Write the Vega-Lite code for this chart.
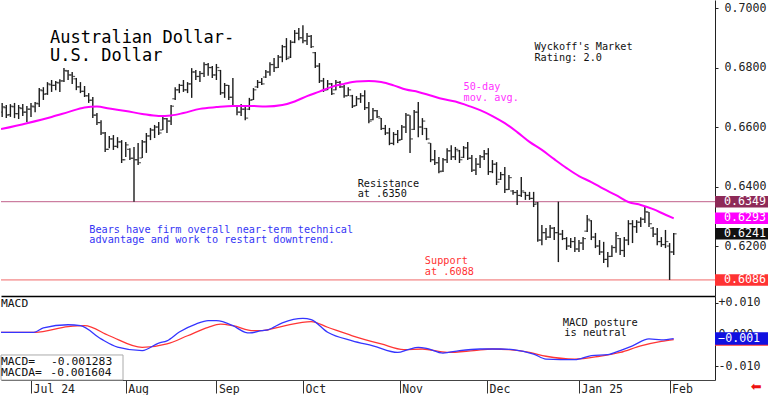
{
  "$schema": "https://vega.github.io/schema/vega-lite/v6.json",
  "padding": 0,
  "spacing": 0,
  "background": "white",
  "config": {
    "view": {"stroke": null},
    "axis": {"grid": false, "labelFont": "DejaVu Sans Mono", "labelFontSize": 11.6, "labelColor": "#222222", "domainColor": "#222222", "tickColor": "#222222", "labelOverlap": false},
    "text": {"font": "DejaVu Sans Mono"}
  },
  "resolve": {"scale": {"x": "independent", "y": "independent", "color": "independent"}},
  "datasets": {
    "bars": [
      {"i":-7,"o":0.6650,"h":0.6681,"l":0.6634,"c":0.6668},
      {"i":-6,"o":0.6665,"h":0.6674,"l":0.6630,"c":0.6640},
      {"i":-5,"o":0.6642,"h":0.6677,"l":0.6634,"c":0.6670},
      {"i":-4,"o":0.6668,"h":0.6681,"l":0.6630,"c":0.6645},
      {"i":-3,"o":0.6645,"h":0.6674,"l":0.6627,"c":0.6665},
      {"i":-2,"o":0.6662,"h":0.6677,"l":0.6637,"c":0.6650},
      {"i":-1,"o":0.6650,"h":0.6671,"l":0.6617,"c":0.6660},
      {"i":0,"o":0.6660,"h":0.6681,"l":0.6634,"c":0.6670},
      {"i":1,"o":0.6668,"h":0.6684,"l":0.6650,"c":0.6680},
      {"i":2,"o":0.6678,"h":0.6731,"l":0.6667,"c":0.6725},
      {"i":3,"o":0.6722,"h":0.6734,"l":0.6691,"c":0.6710},
      {"i":4,"o":0.6712,"h":0.6751,"l":0.6708,"c":0.6745},
      {"i":5,"o":0.6742,"h":0.6758,"l":0.6718,"c":0.6740},
      {"i":6,"o":0.6740,"h":0.6755,"l":0.6724,"c":0.6750},
      {"i":7,"o":0.6748,"h":0.6761,"l":0.6718,"c":0.6755},
      {"i":8,"o":0.6755,"h":0.6798,"l":0.6751,"c":0.6790},
      {"i":9,"o":0.6788,"h":0.6792,"l":0.6758,"c":0.6775},
      {"i":10,"o":0.6775,"h":0.6785,"l":0.6745,"c":0.6770},
      {"i":11,"o":0.6762,"h":0.6765,"l":0.6724,"c":0.6735},
      {"i":12,"o":0.6735,"h":0.6751,"l":0.6714,"c":0.6720},
      {"i":13,"o":0.6720,"h":0.6738,"l":0.6701,"c":0.6705},
      {"i":14,"o":0.6705,"h":0.6714,"l":0.6681,"c":0.6690},
      {"i":15,"o":0.6690,"h":0.6701,"l":0.6630,"c":0.6640},
      {"i":16,"o":0.6640,"h":0.6647,"l":0.6607,"c":0.6615},
      {"i":17,"o":0.6615,"h":0.6623,"l":0.6573,"c":0.6580},
      {"i":18,"o":0.6580,"h":0.6583,"l":0.6516,"c":0.6525},
      {"i":19,"o":0.6525,"h":0.6570,"l":0.6529,"c":0.6560},
      {"i":20,"o":0.6560,"h":0.6573,"l":0.6523,"c":0.6535},
      {"i":21,"o":0.6535,"h":0.6566,"l":0.6529,"c":0.6550},
      {"i":22,"o":0.6550,"h":0.6556,"l":0.6479,"c":0.6490},
      {"i":23,"o":0.6490,"h":0.6550,"l":0.6499,"c":0.6540},
      {"i":24,"o":0.6525,"h":0.6529,"l":0.6489,"c":0.6495},
      {"i":25,"o":0.6495,"h":0.6533,"l":0.6349,"c":0.6490},
      {"i":26,"o":0.6490,"h":0.6546,"l":0.6472,"c":0.6480},
      {"i":27,"o":0.6496,"h":0.6556,"l":0.6496,"c":0.6550},
      {"i":28,"o":0.6550,"h":0.6580,"l":0.6513,"c":0.6570},
      {"i":29,"o":0.6570,"h":0.6597,"l":0.6556,"c":0.6590},
      {"i":30,"o":0.6590,"h":0.6607,"l":0.6563,"c":0.6600},
      {"i":31,"o":0.6600,"h":0.6617,"l":0.6573,"c":0.6580},
      {"i":32,"o":0.6590,"h":0.6634,"l":0.6590,"c":0.6628},
      {"i":33,"o":0.6628,"h":0.6630,"l":0.6580,"c":0.6620},
      {"i":34,"o":0.6620,"h":0.6674,"l":0.6607,"c":0.6670},
      {"i":35,"o":0.6695,"h":0.6734,"l":0.6691,"c":0.6725},
      {"i":36,"o":0.6725,"h":0.6745,"l":0.6714,"c":0.6740},
      {"i":37,"o":0.6740,"h":0.6758,"l":0.6718,"c":0.6725},
      {"i":38,"o":0.6725,"h":0.6751,"l":0.6714,"c":0.6745},
      {"i":39,"o":0.6745,"h":0.6798,"l":0.6698,"c":0.6785},
      {"i":40,"o":0.6785,"h":0.6792,"l":0.6758,"c":0.6770},
      {"i":41,"o":0.6770,"h":0.6788,"l":0.6751,"c":0.6780},
      {"i":42,"o":0.6780,"h":0.6818,"l":0.6768,"c":0.6810},
      {"i":43,"o":0.6810,"h":0.6815,"l":0.6772,"c":0.6800},
      {"i":44,"o":0.6800,"h":0.6805,"l":0.6765,"c":0.6775},
      {"i":45,"o":0.6775,"h":0.6812,"l":0.6758,"c":0.6800},
      {"i":46,"o":0.6790,"h":0.6792,"l":0.6708,"c":0.6715},
      {"i":47,"o":0.6715,"h":0.6748,"l":0.6698,"c":0.6740},
      {"i":48,"o":0.6740,"h":0.6741,"l":0.6691,"c":0.6700},
      {"i":49,"o":0.6700,"h":0.6765,"l":0.6667,"c":0.6670},
      {"i":50,"o":0.6670,"h":0.6674,"l":0.6640,"c":0.6650},
      {"i":51,"o":0.6650,"h":0.6677,"l":0.6637,"c":0.6660},
      {"i":52,"o":0.6660,"h":0.6671,"l":0.6623,"c":0.6630},
      {"i":53,"o":0.6660,"h":0.6698,"l":0.6657,"c":0.6690},
      {"i":54,"o":0.6692,"h":0.6731,"l":0.6691,"c":0.6725},
      {"i":55,"o":0.6735,"h":0.6758,"l":0.6731,"c":0.6750},
      {"i":56,"o":0.6750,"h":0.6765,"l":0.6741,"c":0.6745},
      {"i":57,"o":0.6768,"h":0.6792,"l":0.6765,"c":0.6785},
      {"i":58,"o":0.6785,"h":0.6818,"l":0.6772,"c":0.6810},
      {"i":59,"o":0.6810,"h":0.6832,"l":0.6785,"c":0.6800},
      {"i":60,"o":0.6800,"h":0.6842,"l":0.6798,"c":0.6835},
      {"i":61,"o":0.6835,"h":0.6876,"l":0.6818,"c":0.6870},
      {"i":62,"o":0.6870,"h":0.6899,"l":0.6825,"c":0.6830},
      {"i":63,"o":0.6835,"h":0.6892,"l":0.6832,"c":0.6885},
      {"i":64,"o":0.6885,"h":0.6926,"l":0.6882,"c":0.6915},
      {"i":65,"o":0.6915,"h":0.6933,"l":0.6892,"c":0.6900},
      {"i":66,"o":0.6900,"h":0.6942,"l":0.6882,"c":0.6890},
      {"i":67,"o":0.6890,"h":0.6916,"l":0.6876,"c":0.6905},
      {"i":68,"o":0.6905,"h":0.6909,"l":0.6866,"c":0.6870},
      {"i":69,"o":0.6850,"h":0.6852,"l":0.6798,"c":0.6805},
      {"i":70,"o":0.6805,"h":0.6815,"l":0.6748,"c":0.6755},
      {"i":71,"o":0.6755,"h":0.6765,"l":0.6718,"c":0.6725},
      {"i":72,"o":0.6725,"h":0.6758,"l":0.6724,"c":0.6745},
      {"i":73,"o":0.6745,"h":0.6748,"l":0.6708,"c":0.6712},
      {"i":74,"o":0.6725,"h":0.6758,"l":0.6724,"c":0.6750},
      {"i":75,"o":0.6750,"h":0.6755,"l":0.6731,"c":0.6735},
      {"i":76,"o":0.6735,"h":0.6741,"l":0.6698,"c":0.6705},
      {"i":77,"o":0.6705,"h":0.6734,"l":0.6704,"c":0.6725},
      {"i":78,"o":0.6705,"h":0.6708,"l":0.6664,"c":0.6670},
      {"i":79,"o":0.6672,"h":0.6704,"l":0.6671,"c":0.6695},
      {"i":80,"o":0.6695,"h":0.6714,"l":0.6681,"c":0.6705},
      {"i":81,"o":0.6705,"h":0.6724,"l":0.6657,"c":0.6665},
      {"i":82,"o":0.6665,"h":0.6684,"l":0.6613,"c":0.6620},
      {"i":83,"o":0.6625,"h":0.6664,"l":0.6623,"c":0.6655},
      {"i":84,"o":0.6655,"h":0.6657,"l":0.6630,"c":0.6635},
      {"i":85,"o":0.6630,"h":0.6630,"l":0.6590,"c":0.6595},
      {"i":86,"o":0.6595,"h":0.6607,"l":0.6573,"c":0.6580},
      {"i":87,"o":0.6580,"h":0.6597,"l":0.6539,"c":0.6545},
      {"i":88,"o":0.6545,"h":0.6583,"l":0.6539,"c":0.6575},
      {"i":89,"o":0.6575,"h":0.6590,"l":0.6546,"c":0.6555},
      {"i":90,"o":0.6558,"h":0.6607,"l":0.6556,"c":0.6600},
      {"i":91,"o":0.6600,"h":0.6647,"l":0.6580,"c":0.6640},
      {"i":92,"o":0.6640,"h":0.6640,"l":0.6513,"c":0.6560},
      {"i":93,"o":0.6592,"h":0.6657,"l":0.6590,"c":0.6650},
      {"i":94,"o":0.6650,"h":0.6684,"l":0.6566,"c":0.6600},
      {"i":95,"o":0.6600,"h":0.6630,"l":0.6573,"c":0.6620},
      {"i":96,"o":0.6595,"h":0.6597,"l":0.6556,"c":0.6560},
      {"i":97,"o":0.6546,"h":0.6546,"l":0.6482,"c":0.6490},
      {"i":98,"o":0.6490,"h":0.6523,"l":0.6472,"c":0.6480},
      {"i":99,"o":0.6480,"h":0.6499,"l":0.6445,"c":0.6450},
      {"i":100,"o":0.6452,"h":0.6496,"l":0.6449,"c":0.6490},
      {"i":101,"o":0.6490,"h":0.6529,"l":0.6479,"c":0.6520},
      {"i":102,"o":0.6520,"h":0.6539,"l":0.6489,"c":0.6500},
      {"i":103,"o":0.6500,"h":0.6533,"l":0.6489,"c":0.6525},
      {"i":104,"o":0.6520,"h":0.6523,"l":0.6479,"c":0.6490},
      {"i":105,"o":0.6498,"h":0.6536,"l":0.6496,"c":0.6530},
      {"i":106,"o":0.6530,"h":0.6550,"l":0.6489,"c":0.6495},
      {"i":107,"o":0.6495,"h":0.6506,"l":0.6449,"c":0.6455},
      {"i":108,"o":0.6455,"h":0.6496,"l":0.6439,"c":0.6475},
      {"i":109,"o":0.6475,"h":0.6506,"l":0.6462,"c":0.6500},
      {"i":110,"o":0.6500,"h":0.6523,"l":0.6489,"c":0.6510},
      {"i":111,"o":0.6510,"h":0.6529,"l":0.6439,"c":0.6450},
      {"i":112,"o":0.6450,"h":0.6489,"l":0.6445,"c":0.6475},
      {"i":113,"o":0.6475,"h":0.6482,"l":0.6405,"c":0.6415},
      {"i":114,"o":0.6424,"h":0.6449,"l":0.6422,"c":0.6440},
      {"i":115,"o":0.6440,"h":0.6466,"l":0.6378,"c":0.6390},
      {"i":116,"o":0.6390,"h":0.6439,"l":0.6388,"c":0.6430},
      {"i":117,"o":0.6385,"h":0.6388,"l":0.6372,"c":0.6380},
      {"i":118,"o":0.6380,"h":0.6388,"l":0.6338,"c":0.6370},
      {"i":119,"o":0.6370,"h":0.6432,"l":0.6365,"c":0.6385},
      {"i":120,"o":0.6380,"h":0.6382,"l":0.6355,"c":0.6370},
      {"i":121,"o":0.6370,"h":0.6382,"l":0.6355,"c":0.6360},
      {"i":122,"o":0.6360,"h":0.6382,"l":0.6331,"c":0.6340},
      {"i":123,"o":0.6345,"h":0.6348,"l":0.6214,"c":0.6220},
      {"i":124,"o":0.6220,"h":0.6271,"l":0.6203,"c":0.6245},
      {"i":125,"o":0.6245,"h":0.6261,"l":0.6220,"c":0.6230},
      {"i":126,"o":0.6230,"h":0.6271,"l":0.6227,"c":0.6260},
      {"i":127,"o":0.6260,"h":0.6264,"l":0.6220,"c":0.6245},
      {"i":128,"o":0.6245,"h":0.6349,"l":0.6146,"c":0.6240},
      {"i":129,"o":0.6240,"h":0.6254,"l":0.6220,"c":0.6225},
      {"i":130,"o":0.6225,"h":0.6230,"l":0.6187,"c":0.6200},
      {"i":131,"o":0.6200,"h":0.6227,"l":0.6193,"c":0.6215},
      {"i":132,"o":0.6215,"h":0.6230,"l":0.6180,"c":0.6190},
      {"i":133,"o":0.6190,"h":0.6220,"l":0.6180,"c":0.6210},
      {"i":134,"o":0.6210,"h":0.6230,"l":0.6187,"c":0.6225},
      {"i":135,"o":0.6250,"h":0.6304,"l":0.6247,"c":0.6290},
      {"i":136,"o":0.6285,"h":0.6287,"l":0.6220,"c":0.6230},
      {"i":137,"o":0.6230,"h":0.6244,"l":0.6193,"c":0.6200},
      {"i":138,"o":0.6200,"h":0.6220,"l":0.6170,"c":0.6180},
      {"i":139,"o":0.6180,"h":0.6214,"l":0.6143,"c":0.6155},
      {"i":140,"o":0.6155,"h":0.6180,"l":0.6129,"c":0.6165},
      {"i":141,"o":0.6165,"h":0.6203,"l":0.6163,"c":0.6195},
      {"i":142,"o":0.6195,"h":0.6247,"l":0.6177,"c":0.6235},
      {"i":143,"o":0.6225,"h":0.6227,"l":0.6170,"c":0.6185},
      {"i":144,"o":0.6185,"h":0.6230,"l":0.6163,"c":0.6220},
      {"i":145,"o":0.6220,"h":0.6287,"l":0.6203,"c":0.6275},
      {"i":146,"o":0.6275,"h":0.6287,"l":0.6210,"c":0.6265},
      {"i":147,"o":0.6265,"h":0.6287,"l":0.6244,"c":0.6280},
      {"i":148,"o":0.6280,"h":0.6297,"l":0.6264,"c":0.6290},
      {"i":149,"o":0.6290,"h":0.6331,"l":0.6277,"c":0.6315},
      {"i":150,"o":0.6314,"h":0.6314,"l":0.6264,"c":0.6275},
      {"i":151,"o":0.6260,"h":0.6264,"l":0.6230,"c":0.6240},
      {"i":152,"o":0.6240,"h":0.6261,"l":0.6203,"c":0.6215},
      {"i":153,"o":0.6215,"h":0.6230,"l":0.6197,"c":0.6205},
      {"i":154,"o":0.6205,"h":0.6254,"l":0.6193,"c":0.6215},
      {"i":155,"o":0.6200,"h":0.6210,"l":0.6086,"c":0.6180},
      {"i":156,"o":0.6180,"h":0.6244,"l":0.6170,"c":0.6241}
    ],
    "ma": [
      {"i":-7.28,"ma":0.6593},{"i":-1,"ma":0.6613},{"i":5,"ma":0.6634},{"i":9,"ma":0.6650},
      {"i":13,"ma":0.6666},{"i":16,"ma":0.6669},{"i":19,"ma":0.6662},{"i":23,"ma":0.6654},
      {"i":27,"ma":0.6644},{"i":31,"ma":0.6637},{"i":34,"ma":0.6639},{"i":37,"ma":0.6647},
      {"i":41,"ma":0.6661},{"i":45,"ma":0.6667},{"i":49,"ma":0.6671},{"i":53,"ma":0.6671},
      {"i":57,"ma":0.6669},{"i":61,"ma":0.6674},{"i":64,"ma":0.6686},{"i":67,"ma":0.6704},
      {"i":70,"ma":0.6719},{"i":73,"ma":0.6735},{"i":76,"ma":0.6745},{"i":79,"ma":0.6753},
      {"i":82,"ma":0.6755},{"i":85,"ma":0.6751},{"i":88,"ma":0.6740},{"i":91,"ma":0.6726},
      {"i":94,"ma":0.6718},{"i":97,"ma":0.6706},{"i":100,"ma":0.6694},{"i":103,"ma":0.6686},
      {"i":106,"ma":0.6672},{"i":109,"ma":0.6657},{"i":112,"ma":0.6637},{"i":115,"ma":0.6613},
      {"i":118,"ma":0.6583},{"i":121,"ma":0.6550},{"i":124,"ma":0.6523},{"i":127,"ma":0.6492},
      {"i":130,"ma":0.6462},{"i":133,"ma":0.6435},{"i":136,"ma":0.6415},{"i":139,"ma":0.6392},
      {"i":142,"ma":0.6371},{"i":145,"ma":0.6348},{"i":148,"ma":0.6338},{"i":151,"ma":0.6324},
      {"i":154,"ma":0.6305},{"i":156,"ma":0.6293}
    ],
    "macd": [
      {"s":"MACD","i":-7.28,"m":0.0007},{"s":"MACD","i":0.7,"m":0.0007},{"s":"MACD","i":3,"m":0.0021},
      {"s":"MACD","i":9,"m":0.0031},{"s":"MACD","i":12,"m":0.0028},{"s":"MACD","i":17,"m":-0.0014},
      {"s":"MACD","i":21,"m":-0.0040},{"s":"MACD","i":27,"m":-0.0051},{"s":"MACD","i":31,"m":-0.0027},
      {"s":"MACD","i":33,"m":-0.0020},{"s":"MACD","i":36,"m":0.0008},{"s":"MACD","i":40,"m":0.0033},
      {"s":"MACD","i":43,"m":0.0044},{"s":"MACD","i":45,"m":0.0044},{"s":"MACD","i":49,"m":0.0028},
      {"s":"MACD","i":52,"m":0.0007},{"s":"MACD","i":53,"m":0.0005},{"s":"MACD","i":56,"m":0.0012},
      {"s":"MACD","i":57.5,"m":0.0015},{"s":"MACD","i":61,"m":0.0037},{"s":"MACD","i":66,"m":0.0051},
      {"s":"MACD","i":68,"m":0.0047},{"s":"MACD","i":72,"m":0.0007},{"s":"MACD","i":78,"m":-0.0020},
      {"s":"MACD","i":83,"m":-0.0036},{"s":"MACD","i":89,"m":-0.0057},{"s":"MACD","i":91.5,"m":-0.0048},
      {"s":"MACD","i":94,"m":-0.0041},{"s":"MACD","i":96,"m":-0.0044},{"s":"MACD","i":100,"m":-0.0059},
      {"s":"MACD","i":104,"m":-0.0051},{"s":"MACD","i":109,"m":-0.0046},{"s":"MACD","i":114,"m":-0.0046},
      {"s":"MACD","i":117,"m":-0.0048},{"s":"MACD","i":122,"m":-0.0062},{"s":"MACD","i":125,"m":-0.0078},
      {"s":"MACD","i":132,"m":-0.0080},{"s":"MACD","i":136,"m":-0.0067},{"s":"MACD","i":140,"m":-0.0064},
      {"s":"MACD","i":143,"m":-0.0051},{"s":"MACD","i":146,"m":-0.0036},{"s":"MACD","i":150,"m":-0.0014},
      {"s":"MACD","i":153,"m":-0.0017},{"s":"MACD","i":156,"m":-0.001283},
      {"s":"MACDA","i":-7.28,"m":0.0007},{"s":"MACDA","i":1,"m":0.0007},{"s":"MACDA","i":9,"m":0.0025},
      {"s":"MACDA","i":13,"m":0.0028},{"s":"MACDA","i":19,"m":-0.0004},{"s":"MACDA","i":27,"m":-0.0041},
      {"s":"MACDA","i":33,"m":-0.0030},{"s":"MACDA","i":38,"m":-0.0004},{"s":"MACDA","i":43,"m":0.0023},
      {"s":"MACDA","i":46,"m":0.0033},{"s":"MACDA","i":49,"m":0.0028},{"s":"MACDA","i":54,"m":0.0012},
      {"s":"MACDA","i":56,"m":0.0012},{"s":"MACDA","i":61,"m":0.0026},{"s":"MACDA","i":68,"m":0.0041},
      {"s":"MACDA","i":72,"m":0.0023},{"s":"MACDA","i":78,"m":-0.0004},{"s":"MACDA","i":85,"m":-0.0030},
      {"s":"MACDA","i":90.5,"m":-0.0048},{"s":"MACDA","i":95,"m":-0.0046},{"s":"MACDA","i":101,"m":-0.0057},
      {"s":"MACDA","i":107.5,"m":-0.0051},{"s":"MACDA","i":112,"m":-0.0046},{"s":"MACDA","i":116,"m":-0.0048},
      {"s":"MACDA","i":121,"m":-0.0057},{"s":"MACDA","i":125,"m":-0.0069},{"s":"MACDA","i":132,"m":-0.0078},
      {"s":"MACDA","i":138,"m":-0.0069},{"s":"MACDA","i":143,"m":-0.0057},{"s":"MACDA","i":148,"m":-0.0036},
      {"s":"MACDA","i":153,"m":-0.0022},{"s":"MACDA","i":156,"m":-0.001604}
    ],
    "tags": [
      {"kind":"res","v":0.6349},
      {"kind":"ma","v":0.6293},
      {"kind":"last","v":0.6241},
      {"kind":"sup","v":0.6086}
    ],
    "mtags": [
      {"s":"MACDA","m":-0.001604},
      {"s":"MACD","m":-0.001283}
    ],
    "notes": [
      {"g":"title","i":4.61,"v":0.68814,"text":"Australian Dollar-"},
      {"g":"title","i":4.61,"v":0.68229,"text":"U.S. Dollar"},
      {"g":"note-black","i":122.2,"v":0.68588,"text":"Wyckoff's Market"},
      {"g":"note-black","i":122.2,"v":0.68235,"text":"Rating: 2.0"},
      {"g":"note-magenta","i":105.0,"v":0.67244,"text":"50-day"},
      {"g":"note-magenta","i":105.0,"v":0.66884,"text":"mov. avg."},
      {"g":"note-black","i":79.3,"v":0.63994,"text":"Resistance"},
      {"g":"note-black","i":79.3,"v":0.63657,"text":"at .6350"},
      {"g":"note-blue","i":14.15,"v":0.62427,"text":"Bears have firm overall near-term technical"},
      {"g":"note-blue","i":14.15,"v":0.62091,"text":"advantage and work to restart downtrend."},
      {"g":"note-red","i":95.6,"v":0.61385,"text":"Support"},
      {"g":"note-red","i":95.6,"v":0.61036,"text":"at .6088"}
    ],
    "mnotes": [
      {"g":"label","i":-7.28,"m":0.00863,"text":"MACD"},
      {"g":"posture","i":129.05,"m":0.00279,"text":"MACD posture"},
      {"g":"posture","i":129.4,"m":-0.00038,"text":"is neutral"},
      {"g":"label","i":-7.28,"m":-0.00968,"text":"MACD="},
      {"g":"label","i":4.85,"m":-0.00968,"text":"-0.001283"},
      {"g":"label","i":-7.28,"m":-0.01327,"text":"MACDA="},
      {"g":"label","i":4.7,"m":-0.01327,"text":"-0.001604"}
    ]
  },
  "vconcat": [
    {
      "width": 714,
      "height": 296,
      "layer": [
        {
          "data": {"name": "tags"},
          "transform": [{"filter": "datum.kind == 'res'"}],
          "mark": {"type": "rule", "color": "#c0608a", "strokeWidth": 1},
          "encoding": {"y": {"field": "v", "type": "quantitative", "scale": {"domain": [0.6032, 0.7027], "nice": false, "zero": false},
                  "axis": {"orient": "right", "title": null, "labels": true, "values": [0.62, 0.63, 0.64, 0.65, 0.66, 0.67, 0.68, 0.69, 0.70],
                           "labelExpr": "abs(datum.value-0.70) < 0.001 ? '0.7000' : abs(datum.value-0.68) < 0.001 ? '0.6800' : abs(datum.value-0.66) < 0.001 ? '0.6600' : abs(datum.value-0.64) < 0.001 ? '0.6400' : abs(datum.value-0.62) < 0.001 ? '0.6200' : ''",
                           "tickSize": 3, "labelPadding": 6, "labelBaseline": "middle", "labelOverlap": false, "labelColor": "#222222"}}}
        },
        {
          "data": {"name": "tags"},
          "transform": [{"filter": "datum.kind == 'sup'"}],
          "mark": {"type": "rule", "color": "#f06868", "strokeWidth": 1},
          "encoding": {"y": {"field": "v", "type": "quantitative"}}
        },
        {
          "data": {"name": "bars"},
          "mark": {"type": "rule", "color": "#1c1c1c", "strokeWidth": 1.4, "clip": true},
          "encoding": {
            "x": {"field": "i", "type": "quantitative", "scale": {"domain": [-7.282, 166.02], "nice": false, "zero": false},
                  "axis": {"orient": "bottom", "title": null, "labels": false, "ticks": false, "domain": true, "domainColor": "#000000", "domainWidth": 1.5}},
            "y": {"field": "h", "type": "quantitative"},
            "y2": {"field": "l"}
          }
        },
        {
          "data": {"name": "bars"},
          "mark": {"type": "tick", "orient": "horizontal", "size": 2.6, "thickness": 1.2, "xOffset": -1.6, "color": "#1c1c1c", "clip": true},
          "encoding": {"x": {"field": "i", "type": "quantitative"}, "y": {"field": "o", "type": "quantitative"}}
        },
        {
          "data": {"name": "bars"},
          "mark": {"type": "tick", "orient": "horizontal", "size": 2.6, "thickness": 1.2, "xOffset": 1.6, "color": "#1c1c1c", "clip": true},
          "encoding": {"x": {"field": "i", "type": "quantitative"}, "y": {"field": "c", "type": "quantitative"}}
        },
        {
          "data": {"name": "ma"},
          "mark": {"type": "line", "color": "#ff00ff", "strokeWidth": 2, "interpolate": "monotone", "clip": true},
          "encoding": {"x": {"field": "i", "type": "quantitative"}, "y": {"field": "ma", "type": "quantitative"}}
        },
        {
          "data": {"name": "tags"},
          "mark": {"type": "rect", "height": 11.5},
          "encoding": {
            "x": {"datum": 166.02, "type": "quantitative"},
            "x2": {"datum": 179.3},
            "y": {"field": "v", "type": "quantitative"},
            "color": {"field": "kind", "type": "nominal", "legend": null,
                      "scale": {"domain": ["note-black", "note-blue", "note-magenta", "note-red", "res", "ma", "last", "sup"],
                                "range": ["#111111", "#3535f5", "#ff33ff", "#ff3333", "#8e2a58", "#ff00ff", "#111111", "#ff3333"]}}
          }
        },
        {
          "data": {"name": "tags"},
          "mark": {"type": "text", "align": "left", "baseline": "middle", "color": "#ffffff", "fontSize": 11.6},
          "encoding": {
            "x": {"datum": 168.2, "type": "quantitative"},
            "y": {"field": "v", "type": "quantitative"},
            "text": {"field": "v", "type": "quantitative", "format": ".4f"}
          }
        },
        {
          "data": {"name": "notes"},
          "transform": [{"filter": "datum.g == 'title'"}],
          "mark": {"type": "text", "align": "left", "baseline": "alphabetic", "fontSize": 17, "color": "#000000"},
          "encoding": {"x": {"field": "i", "type": "quantitative"}, "y": {"field": "v", "type": "quantitative"}, "text": {"field": "text"}}
        },
        {
          "data": {"name": "notes"},
          "transform": [{"filter": "datum.g != 'title'"}],
          "mark": {"type": "text", "align": "left", "baseline": "alphabetic", "fontSize": 10.2},
          "encoding": {
            "x": {"field": "i", "type": "quantitative"},
            "y": {"field": "v", "type": "quantitative"},
            "text": {"field": "text"},
            "color": {"field": "g", "type": "nominal", "legend": null,
                      "scale": {"domain": ["note-black", "note-blue", "note-magenta", "note-red", "res", "ma", "last", "sup"],
                                "range": ["#111111", "#3535f5", "#ff33ff", "#ff3333", "#8e2a58", "#ff00ff", "#111111", "#ff3333"]}}
          }
        }
      ]
    },
    {
      "width": 714,
      "height": 84,
      "layer": [
        {
          "data": {"name": "macd"},
          "transform": [{"filter": "datum.s == 'MACDA'"}],
          "mark": {"type": "line", "color": "#ff3535", "strokeWidth": 1.3, "interpolate": "monotone", "clip": true},
          "encoding": {
            "x": {"field": "i", "type": "quantitative", "scale": {"domain": [-7.282, 166.02], "nice": false, "zero": false},
                  "axis": {"orient": "bottom", "title": null, "values": [0, 23, 45, 66, 89.5, 110.7, 133, 155],
                           "labelExpr": "datum.value < 10 ? 'Jul 24' : datum.value < 30 ? 'Aug' : datum.value < 50 ? 'Sep' : datum.value < 70 ? 'Oct' : datum.value < 100 ? 'Nov' : datum.value < 120 ? 'Dec' : datum.value < 140 ? 'Jan 25' : 'Feb'",
                           "labelAlign": "left", "labelBaseline": "alphabetic", "labelOffset": 2, "tickSize": 13, "labelPadding": -1,
                           "labelFontSize": 11.5, "labelBound": false, "labelFlush": false, "labelOverlap": false,
                           "domainColor": "#444444", "tickColor": "#333333"}},
            "y": {"field": "m", "type": "quantitative", "scale": {"domain": [-0.01444, 0.01222], "nice": false, "zero": false},
                  "axis": {"orient": "right", "title": null, "values": [-0.01, -0.005, 0, 0.005, 0.01],
                           "labelExpr": "datum.value > 0.0075 ? '+0.010' : datum.value < -0.0075 ? '-0.010' : abs(datum.value) < 0.001 ? '0.000' : ''",
                           "tickSize": 3, "labelPadding": 0, "labelBaseline": "middle", "labelOverlap": false}}
          }
        },
        {
          "data": {"name": "macd"},
          "transform": [{"filter": "datum.s == 'MACD'"}],
          "mark": {"type": "line", "color": "#3535ff", "strokeWidth": 1.3, "interpolate": "monotone", "clip": true},
          "encoding": {"x": {"field": "i", "type": "quantitative"}, "y": {"field": "m", "type": "quantitative"}}
        },
        {
          "data": {"values": [{}]},
          "mark": {"type": "rect", "fill": "#ffffff", "stroke": "#aaaaaa", "strokeWidth": 1},
          "encoding": {
            "x": {"datum": -7.282, "type": "quantitative"},
            "x2": {"datum": 22.33},
            "y": {"datum": -0.0065, "type": "quantitative"},
            "y2": {"datum": -0.01444}
          }
        },
        {
          "data": {"name": "mnotes"},
          "transform": [{"filter": "datum.g == 'label'"}],
          "mark": {"type": "text", "align": "left", "baseline": "alphabetic", "fontSize": 11.3, "color": "#111111"},
          "encoding": {"x": {"field": "i", "type": "quantitative"}, "y": {"field": "m", "type": "quantitative"}, "text": {"field": "text"}}
        },
        {
          "data": {"name": "mnotes"},
          "transform": [{"filter": "datum.g == 'posture'"}],
          "mark": {"type": "text", "align": "left", "baseline": "alphabetic", "fontSize": 10.4, "color": "#111111"},
          "encoding": {"x": {"field": "i", "type": "quantitative"}, "y": {"field": "m", "type": "quantitative"}, "text": {"field": "text"}}
        },
        {
          "data": {"name": "mtags"},
          "transform": [{"filter": "datum.s == 'MACDA'"}],
          "mark": {"type": "rect", "height": 12.4, "color": "#ff3333"},
          "encoding": {"x": {"datum": 166.02, "type": "quantitative"}, "x2": {"datum": 179.3}, "y": {"field": "m", "type": "quantitative"}}
        },
        {
          "data": {"name": "mtags"},
          "transform": [{"filter": "datum.s == 'MACD'"}],
          "mark": {"type": "rect", "height": 12.4, "color": "#1010e0"},
          "encoding": {"x": {"datum": 166.02, "type": "quantitative"}, "x2": {"datum": 179.3}, "y": {"field": "m", "type": "quantitative"}}
        },
        {
          "data": {"name": "mtags"},
          "transform": [{"filter": "datum.s == 'MACD'"}],
          "mark": {"type": "text", "align": "left", "baseline": "middle", "fontSize": 11.6, "color": "#ffffff"},
          "encoding": {"x": {"datum": 166.8, "type": "quantitative"}, "y": {"field": "m", "type": "quantitative"}, "text": {"field": "m", "type": "quantitative", "format": ".3f"}}
        },
        {
          "data": {"values": [{"sym": "⬅"}]},
          "mark": {"type": "text", "align": "center", "baseline": "middle", "fontSize": 13, "font": "DejaVu Sans", "color": "#ee1111"},
          "encoding": {"x": {"datum": 176, "type": "quantitative"}, "y": {"datum": -0.01667, "type": "quantitative"}, "text": {"field": "sym"}}
        }
      ]
    }
  ]
}
